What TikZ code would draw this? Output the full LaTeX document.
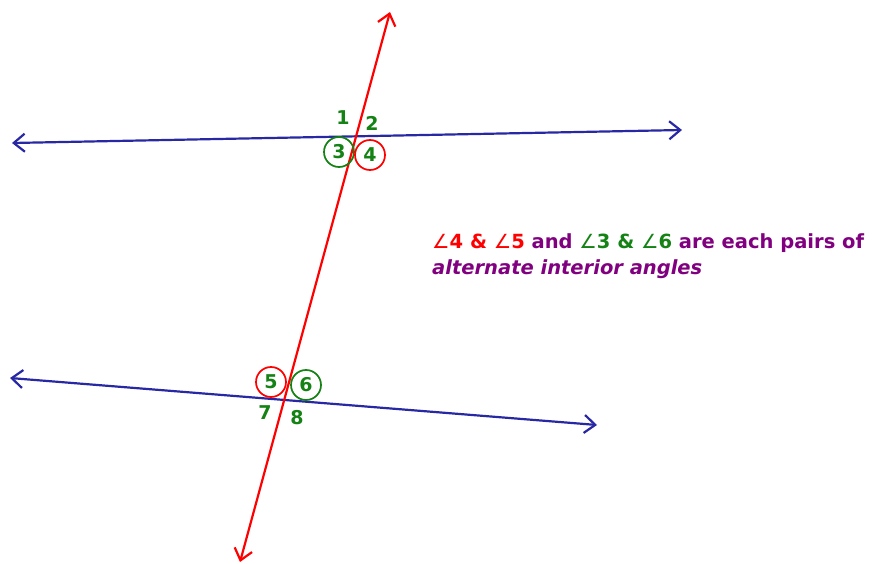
\documentclass[tikz,border=0pt]{standalone}
\usepackage{fontspec}
\setmainfont{DejaVu Sans}
\usetikzlibrary{arrows.meta}
\definecolor{lblue}{RGB}{40,40,165}
\definecolor{lred}{RGB}{255,0,0}
\definecolor{lgreen}{RGB}{20,130,20}
\definecolor{lpurple}{RGB}{128,0,128}
\tikzset{
  barbtip/.tip={Straight Barb[length=11pt,width=18pt,line width=2.2pt]},
  pline/.style={lblue, line width=2.2pt, barbtip-barbtip},
  tline/.style={lred, line width=2.2pt, barbtip-barbtip},
  num/.style={text=lgreen, font=\fontsize{19}{19}\selectfont\bfseries, inner sep=0pt},
  rc/.style={circle, draw=lred, line width=1.7pt, minimum size=30pt, inner sep=0pt},
  gc/.style={circle, draw=lgreen, line width=1.7pt, minimum size=30pt, inner sep=0pt},
}
\newcommand{\angsym}{{\mdseries\char"2220}}
\begin{document}
\begin{tikzpicture}[x=1pt,y=-1pt]
\useasboundingbox[fill=white] (0,0) rectangle (875,564);
\coordinate (a1) at (12,143);
\coordinate (a2) at (682,130);
\coordinate (b1) at (10,378);
\coordinate (b2) at (597,425);
\coordinate (t1) at (240,562);
\coordinate (t2) at (390,12);
\draw[pline] (a1) -- (a2);
\draw[pline] (b1) -- (b2);
\draw[tline] (t1) -- (t2);
% top labels
\node[num] (n1) at (343,118) {1};
\node[num] (n2) at (372,123) {2};
\node[num, gc] (n3) at (339,152) {3};
\node[num, rc] (n4) at (370,155) {4};
% bottom labels
\node[num, rc] (n5) at (271,382) {5};
\node[num, gc] (n6) at (306,385) {6};
\node[num] (n7) at (265,413) {7};
\node[num] (n8) at (297,418) {8};
% text
\node[anchor=west, inner sep=0pt, font=\fontsize{19.5}{26}\selectfont\bfseries, align=left] (txt) at (432,256)
 {\textcolor{lred}{\angsym4 \& \angsym5} \textcolor{lpurple}{and} \textcolor{lgreen}{\angsym3 \& \angsym6} \textcolor{lpurple}{are each pairs of}\\
  \textcolor{lpurple}{\itshape alternate interior angles}};
\end{tikzpicture}
\end{document}
